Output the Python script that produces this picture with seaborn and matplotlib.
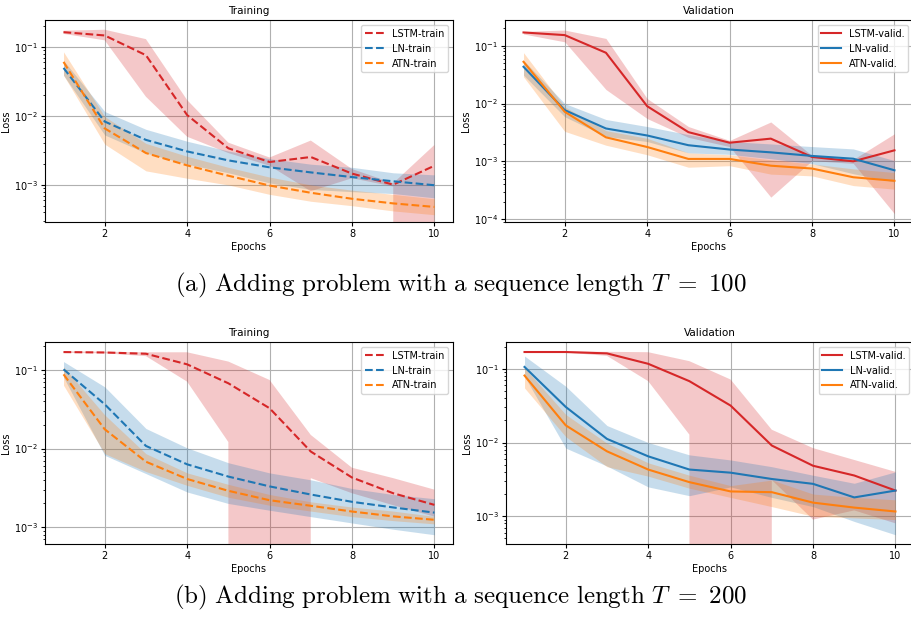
import numpy as np
import seaborn as sns
import matplotlib
matplotlib.use('Agg')
import matplotlib.pyplot as plt

plt.rcParams['mathtext.fontset'] = 'cm'

epochs = [1, 2, 3, 4, 5, 6, 7, 8, 9, 10]

# (a) T = 100, training
lstm_tr_a = [0.164, 0.147, 0.076, 0.0103, 0.0034, 0.00215, 0.00254, 0.00146, 0.00101, 0.0019]
lstm_tr_a_lo = [0.155, 0.125, 0.019, 0.005, 0.0029, 0.0019, 0.00081, 0.00125, 0.00095, 0.0]
lstm_tr_a_hi = [0.172, 0.178, 0.13, 0.017, 0.0041, 0.0025, 0.0044, 0.0017, 0.00106, 0.0038]
ln_tr_a = [0.0497, 0.0083, 0.0045, 0.00306, 0.00227, 0.0018, 0.00152, 0.0013, 0.00113, 0.00099]
ln_tr_a_lo = [0.039, 0.0053, 0.0029, 0.0020, 0.0015, 0.00107, 0.00086, 0.0008, 0.00075, 0.00065]
ln_tr_a_hi = [0.064, 0.0116, 0.0064, 0.0043, 0.0031, 0.0024, 0.0020, 0.0018, 0.0015, 0.0014]
atn_tr_a = [0.0608, 0.0066, 0.0029, 0.00192, 0.00136, 0.00098, 0.00077, 0.00063, 0.00054, 0.00048]
atn_tr_a_lo = [0.039, 0.0039, 0.0016, 0.00125, 0.0010, 0.00073, 0.00058, 0.0005, 0.00042, 0.00037]
atn_tr_a_hi = [0.085, 0.0098, 0.0040, 0.0026, 0.0018, 0.0013, 0.0010, 0.00084, 0.00073, 0.00063]

# (a) T = 100, validation
lstm_va_a = [0.17, 0.153, 0.0757, 0.009, 0.0032, 0.0021, 0.00247, 0.00119, 0.001, 0.00155]
lstm_va_a_lo = [0.16, 0.117, 0.0175, 0.0055, 0.0026, 0.0018, 0.00024, 0.00103, 0.00092, 0.000124]
lstm_va_a_hi = [0.178, 0.187, 0.134, 0.0122, 0.004, 0.0023, 0.0048, 0.00126, 0.00108, 0.003]
ln_va_a = [0.0433, 0.0077, 0.0037, 0.0028, 0.0019, 0.0016, 0.00143, 0.00124, 0.00111, 0.0007]
ln_va_a_lo = [0.031, 0.0059, 0.0027, 0.0022, 0.0014, 0.00132, 0.00111, 0.00091, 0.00061, 0.00044]
ln_va_a_hi = [0.056, 0.010, 0.0053, 0.004, 0.0029, 0.0022, 0.002, 0.0018, 0.00164, 0.00103]
atn_va_a = [0.0528, 0.0072, 0.0026, 0.00177, 0.0011, 0.0011, 0.00084, 0.00075, 0.00053, 0.00046]
atn_va_a_lo = [0.029, 0.0033, 0.0019, 0.0013, 0.00079, 0.00084, 0.0006, 0.00056, 0.00038, 0.00033]
atn_va_a_hi = [0.076, 0.0088, 0.0034, 0.0025, 0.0014, 0.0013, 0.00106, 0.0009, 0.00074, 0.00064]

# (b) T = 200, training
lstm_tr_b = [0.169, 0.167, 0.161, 0.118, 0.0677, 0.0326, 0.00916, 0.00428, 0.0027, 0.00192]
lstm_tr_b_lo = [0.165, 0.163, 0.15, 0.071, 0.0121, 0.0, 0.0042, 0.0027, 0.0019, 0.00136]
lstm_tr_b_hi = [0.173, 0.171, 0.168, 0.168, 0.128, 0.0746, 0.0149, 0.0057, 0.0042, 0.003]
ln_tr_b = [0.102, 0.0366, 0.0108, 0.0063, 0.0044, 0.0033, 0.0026, 0.0021, 0.00178, 0.00153]
ln_tr_b_lo = [0.081, 0.0082, 0.0048, 0.0028, 0.0020, 0.00164, 0.00136, 0.00113, 0.00094, 0.0008]
ln_tr_b_hi = [0.128, 0.061, 0.018, 0.0102, 0.0066, 0.0049, 0.0040, 0.0031, 0.0026, 0.0023]
atn_tr_b = [0.088, 0.0176, 0.0068, 0.0041, 0.0029, 0.0022, 0.00187, 0.00158, 0.00137, 0.00124]
atn_tr_b_lo = [0.064, 0.0086, 0.0051, 0.0034, 0.0024, 0.0019, 0.0016, 0.00136, 0.00121, 0.0011]
atn_tr_b_hi = [0.11, 0.0268, 0.0086, 0.0049, 0.0035, 0.0026, 0.0021, 0.0018, 0.0016, 0.00137]

# (b) T = 200, validation
lstm_va_b = [0.169, 0.169, 0.162, 0.117, 0.068, 0.0317, 0.0091, 0.00484, 0.00357, 0.00223]
lstm_va_b_lo = [0.166, 0.166, 0.15, 0.068, 0.0128, 0.0, 0.0031, 0.0009, 0.0012, 0.0008]
lstm_va_b_hi = [0.172, 0.172, 0.17, 0.168, 0.127, 0.0716, 0.0149, 0.0084, 0.0058, 0.004]
ln_va_b = [0.106, 0.0304, 0.0112, 0.0065, 0.0043, 0.0039, 0.0032, 0.00275, 0.0018, 0.00223]
ln_va_b_lo = [0.079, 0.0084, 0.0048, 0.0025, 0.0019, 0.0025, 0.0018, 0.00135, 0.00085, 0.00056]
ln_va_b_hi = [0.149, 0.058, 0.017, 0.010, 0.0068, 0.0058, 0.0047, 0.0036, 0.0028, 0.004]
atn_va_b = [0.081, 0.0171, 0.0076, 0.0043, 0.0029, 0.00217, 0.00212, 0.00153, 0.00131, 0.00116]
atn_va_b_lo = [0.055, 0.012, 0.0047, 0.0035, 0.0024, 0.0018, 0.00135, 0.001, 0.00095, 0.0009]
atn_va_b_hi = [0.103, 0.024, 0.0098, 0.0053, 0.0036, 0.0026, 0.0031, 0.0020, 0.0018, 0.00167]

colors = {'LSTM': '#d62728', 'LN': '#1f77b4', 'ATN': '#ff7f0e'}


def panel(ax, series, suffix, ls, title, ylim):
    for name, mean, lo, hi in series:
        c = colors[name]
        ax.fill_between(epochs, lo, hi, color=c, alpha=0.25, linewidth=0)
        sns.lineplot(x=epochs, y=mean, ax=ax, color=c, linestyle=ls,
                     linewidth=1.5, label=name + suffix)
    ax.set_yscale('log')
    ax.set_ylim(ylim)
    ax.set_xlim(0.55, 10.45)
    ax.set_xticks([2, 4, 6, 8, 10])
    ax.grid(True, color='#b0b0b0', linewidth=0.8)
    ax.set_axisbelow(True)
    ax.set_title(title, fontsize=7.5, pad=4)
    ax.set_xlabel('Epochs', fontsize=7, labelpad=2)
    ax.set_ylabel('Loss', fontsize=7, labelpad=2)
    ax.tick_params(labelsize=7, length=3, pad=2)
    ax.tick_params(which='minor', length=1.8)
    for s in ax.spines.values():
        s.set_color('black')
    ax.legend(loc='upper right', fontsize=7, framealpha=0.8)


fig = plt.figure(figsize=(9.12, 6.24), dpi=100)
ax1 = fig.add_axes([0.0493, 0.6442, 0.4474, 0.3237])
ax2 = fig.add_axes([0.5537, 0.6442, 0.4474, 0.3237])
ax3 = fig.add_axes([0.0493, 0.1282, 0.4474, 0.3237])
ax4 = fig.add_axes([0.5548, 0.1282, 0.4474, 0.3237])

panel(ax1, [('LSTM', lstm_tr_a, lstm_tr_a_lo, lstm_tr_a_hi),
            ('LN', ln_tr_a, ln_tr_a_lo, ln_tr_a_hi),
            ('ATN', atn_tr_a, atn_tr_a_lo, atn_tr_a_hi)],
      '-train', '--', 'Training', (2.9e-4, 0.246))
panel(ax2, [('LSTM', lstm_va_a, lstm_va_a_lo, lstm_va_a_hi),
            ('LN', ln_va_a, ln_va_a_lo, ln_va_a_hi),
            ('ATN', atn_va_a, atn_va_a_lo, atn_va_a_hi)],
      '-valid.', '-', 'Validation', (8.9e-5, 0.279))
panel(ax3, [('LSTM', lstm_tr_b, lstm_tr_b_lo, lstm_tr_b_hi),
            ('LN', ln_tr_b, ln_tr_b_lo, ln_tr_b_hi),
            ('ATN', atn_tr_b, atn_tr_b_lo, atn_tr_b_hi)],
      '-train', '--', 'Training', (6.1e-4, 0.227))
panel(ax4, [('LSTM', lstm_va_b, lstm_va_b_lo, lstm_va_b_hi),
            ('LN', ln_va_b, ln_va_b_lo, ln_va_b_hi),
            ('ATN', atn_va_b, atn_va_b_lo, atn_va_b_hi)],
      '-valid.', '-', 'Validation', (4.2e-4, 0.231))

fig.text(0.505, 0.543, r'$\mathrm{(a)\ Adding\ problem\ with\ a\ sequence\ length\ }T\ =\ 100$',
         ha='center', va='center', fontsize=18)
fig.text(0.505, 0.043, r'$\mathrm{(b)\ Adding\ problem\ with\ a\ sequence\ length\ }T\ =\ 200$',
         ha='center', va='center', fontsize=18)

fig.savefig('out.png', dpi=100)
